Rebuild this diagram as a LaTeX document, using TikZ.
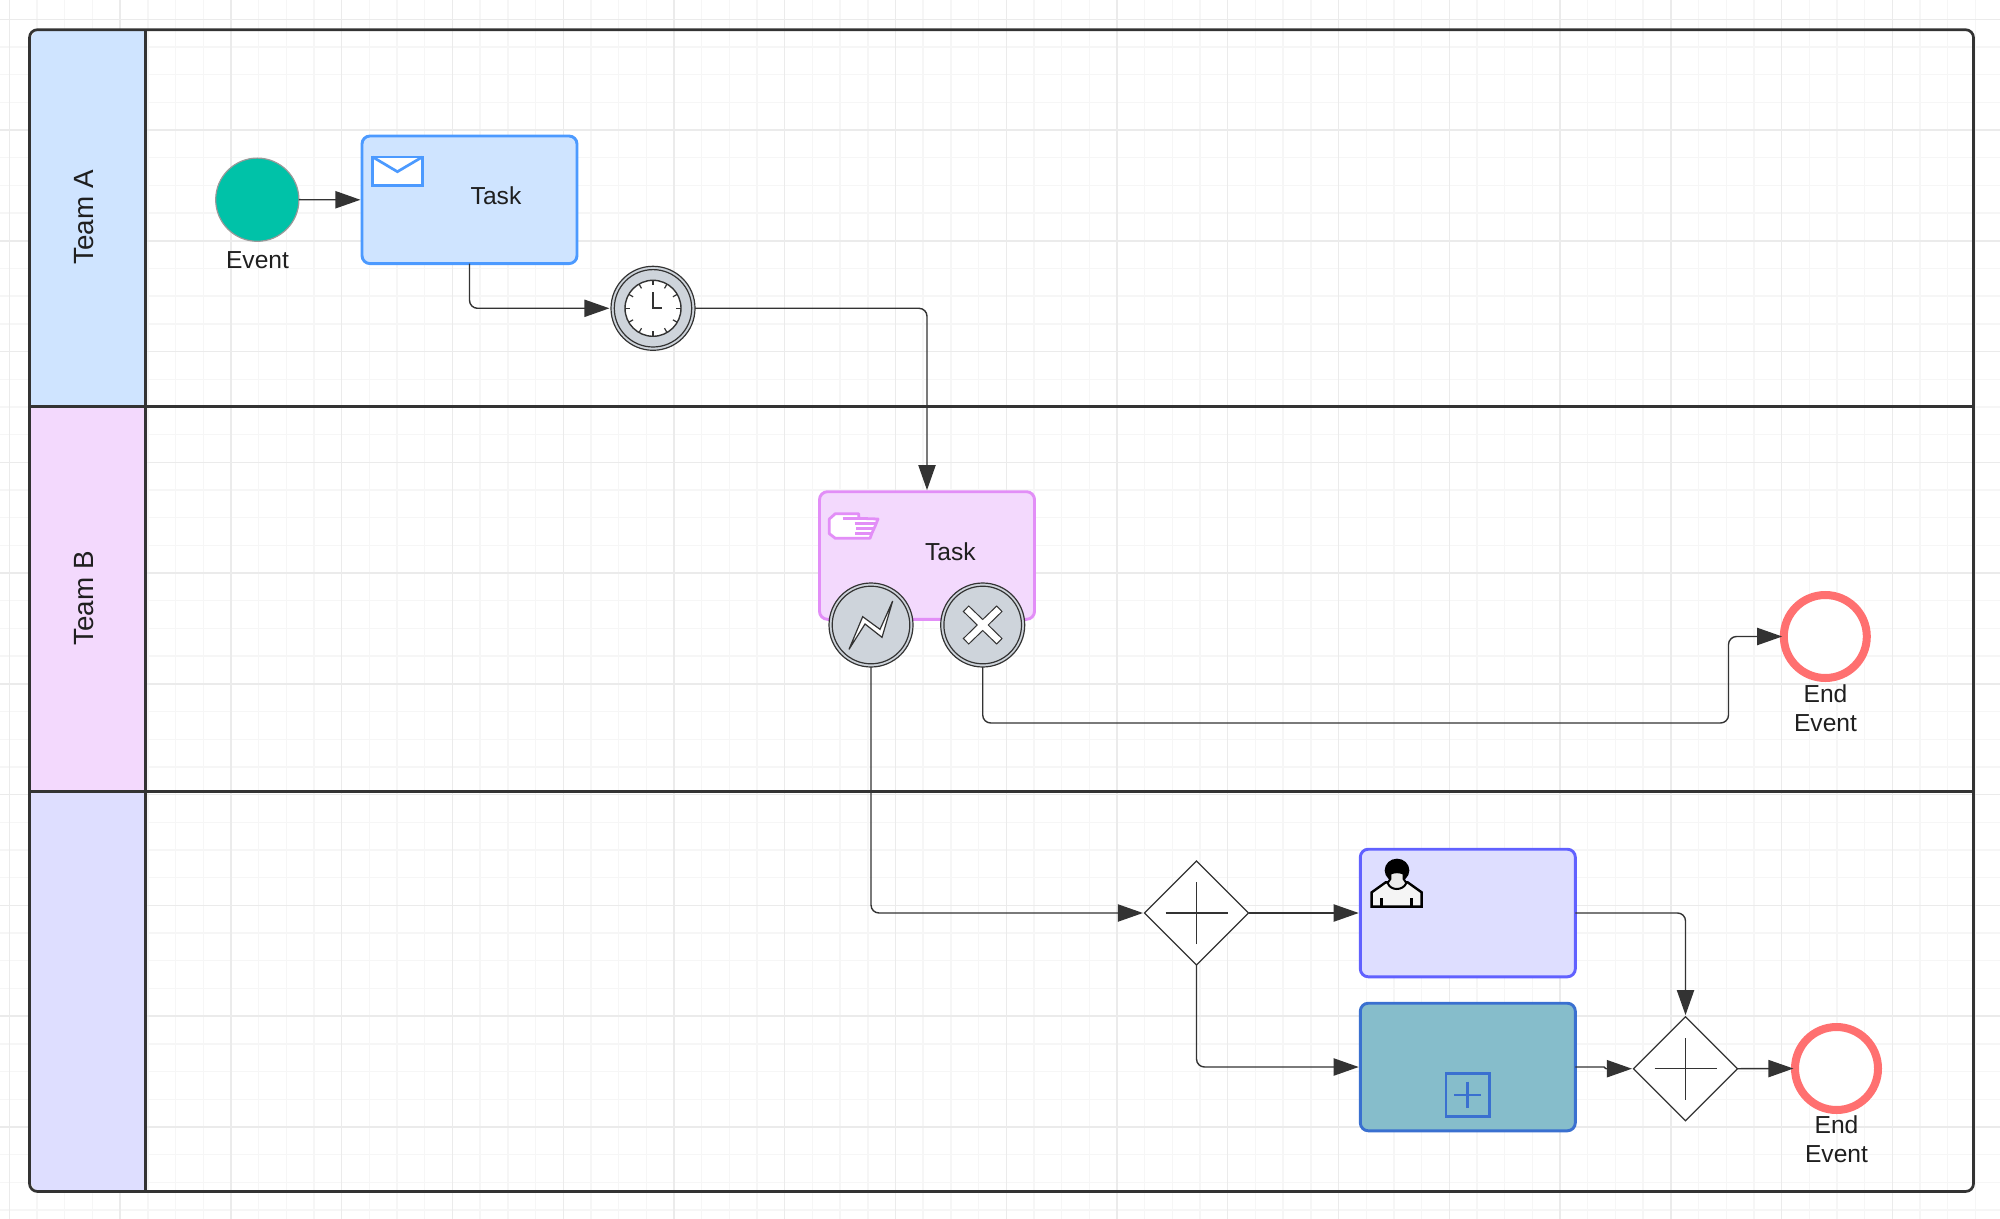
\documentclass[tikz,border=0pt]{standalone}
\usepackage{fontspec}
\setmainfont{Liberation Sans}
\usetikzlibrary{arrows.meta,shapes.geometric}
\definecolor{ink}{HTML}{333333}
\definecolor{txt}{HTML}{1F1F1F}
\definecolor{gridmin}{HTML}{F6F6F6}
\definecolor{gridmaj}{HTML}{EBEBEB}
\definecolor{blueF}{HTML}{CFE4FF}
\definecolor{blueS}{HTML}{4C9AFF}
\definecolor{pinkF}{HTML}{F3D9FD}
\definecolor{pinkS}{HTML}{E28EF7}
\definecolor{lilacF}{HTML}{DEDEFF}
\definecolor{lilacS}{HTML}{6161FF}
\definecolor{tealF}{HTML}{86BDCB}
\definecolor{tealS}{HTML}{3A70D0}
\definecolor{greenF}{HTML}{00C2A8}
\definecolor{redS}{HTML}{FF7070}
\definecolor{grayF}{HTML}{CED4DB}
\tikzset{
  x=0.5pt,y=-0.5pt,
  every node/.style={inner sep=0pt,outer sep=0pt,text=txt},
  task/.style={rectangle,rounded corners=4pt,line width=1.45pt,minimum width=107.5pt,minimum height=63.8pt},
  flow/.style={draw=ink,line width=0.7pt,rounded corners=4pt,shorten >=0.8pt,-{Triangle[length=12.5pt,width=8.6pt,fill=ink]}},
  gateway/.style={diamond,draw=ink,fill=white,line width=0.6pt,minimum width=52pt,minimum height=52pt,aspect=1},
  endevent/.style={circle,draw=redS,fill=white,line width=4pt,minimum size=41.5pt},
  catch/.style={circle,draw=ink,fill=grayF,line width=0.6pt,minimum size=42pt},
  ringin/.style={draw=ink,line width=0.6pt},
  label/.style={font=\fontsize{12.3}{14.7}\selectfont,align=center},
  lanetext/.style={font=\fontsize{13.9}{16}\selectfont,rotate=90}
}
\begin{document}
\begin{tikzpicture}
\useasboundingbox (0,0) rectangle (2000,1219);
\fill[white] (0,0) rectangle (2000,1219);
% grid
\foreach \k in {0,...,72}{
  \draw[gridmin,line width=0.7pt] ({9.4+27.69*\k},0) -- ({9.4+27.69*\k},1219);
}
\foreach \k in {0,...,44}{
  \draw[gridmin,line width=0.7pt] (0,{19.3+27.69*\k}) -- (2000,{19.3+27.69*\k});
}
\foreach \k in {0,...,18}{
  \draw[gridmaj,line width=0.7pt] ({9.4+110.76*\k},0) -- ({9.4+110.76*\k},1219);
}
\foreach \k in {0,...,10}{
  \draw[gridmaj,line width=0.7pt] (0,{19.3+110.76*\k}) -- (2000,{19.3+110.76*\k});
}
% lane headers
\fill[blueF] (145.7,406.5) -- (29.5,406.5) -- (29.5,38) to[out=-90,in=180] (38,29.7) -- (145.7,29.7) -- cycle;
\fill[pinkF] (29.5,406.5) rectangle (145.7,791.5);
\fill[lilacF] (145.7,791.5) -- (29.5,791.5) -- (29.5,1183) to[out=90,in=180] (38,1191.5) -- (145.7,1191.5) -- cycle;
% pool
\draw[ink,line width=1.35pt,rounded corners=4pt] (29.5,29.7) rectangle (1973.5,1191.5);
\draw[ink,line width=1.35pt] (145.7,29.7) -- (145.7,1191.5);
\draw[ink,line width=1.35pt] (29.5,406.5) -- (1973.5,406.5);
\draw[ink,line width=1.35pt] (29.5,791.5) -- (1973.5,791.5);
\node[lanetext] (teamA) at (84.5,217.5) {Team A};
\node[lanetext] (teamB) at (84.5,598.5) {Team B};
% nodes
\node[circle,draw=black!40,fill=greenF,line width=0.6pt,minimum size=41.6pt] (start) at (257.3,199.7) {};
\node[label] (startL) at (257.5,260) {Event};
\node[task,draw=blueS,fill=blueF] (taskA) at (469.5,199.8) {};
\node[label] (taskAL) at (496,196) {Task};
\node[circle,draw=ink,fill=grayF,line width=0.6pt,minimum size=42pt] (timer) at (653,308.3) {};
\node[task,draw=pinkS,fill=pinkF] (taskB) at (927,555.5) {};
\node[label] (taskBL) at (950.3,551.7) {Task};
\node[catch] (bolt) at (871,625) {};
\node[catch] (cross) at (982.7,625) {};
\node[endevent] (endA) at (1825.3,636.5) {};
\node[label] (endAL) at (1825.5,708.5) {End\\Event};
\node[gateway] (gwA) at (1196.5,913) {};
\node[gateway] (gwB) at (1685.5,1068.7) {};
\node[task,draw=lilacS,fill=lilacF] (taskC) at (1467.8,913) {};
\node[task,draw=tealS,fill=tealF] (taskD) at (1467.8,1067) {};
\node[endevent] (endB) at (1836.5,1068.5) {};
\node[label] (endBL) at (1836.5,1139) {End\\Event};
\coordinate (crossBend) at (1728.5,723);
\coordinate (jogA) at (1604,1067);
\coordinate (jogB) at (1606,1068.7);
% connectors
\draw[flow] (start.east) -- (taskA.west);
\draw[flow] (taskA.south) |- (timer.west);
\draw[flow] (timer.east) -| (taskB.north);
\draw[flow] (cross.south) |- (crossBend) |- (endA.west);
\draw[flow] (bolt.south) |- (gwA.west);
\draw[flow] (gwA.east) -- (taskC.west);
\draw[flow] (gwA.south) |- (taskD.west);
\draw[flow] (taskC.east) -| (gwB.north);
\draw[flow,rounded corners=0pt] (taskD.east) -- (jogA) -- (jogB) -- (gwB.west);
\draw[flow] (gwB.east) -- (endB.west);
% gateway plus signs
\foreach \g in {gwA,gwB}{
  \draw[ink,line width=0.6pt] ([xshift=-15.5pt]\g.center) -- ([xshift=15.5pt]\g.center);
  \draw[ink,line width=0.6pt] ([yshift=-15.5pt]\g.center) -- ([yshift=15.5pt]\g.center);
}
% timer
\draw[ringin] (timer.center) circle[radius=38.7];
\draw[ink,fill=white,line width=0.7pt] (timer.center) circle[radius=28];
\foreach \a in {0,30,...,330}{
  \draw[ink,line width=0.6pt] ([shift={(\a:28)}]timer.center) -- ([shift={(\a:23)}]timer.center);
}
\draw[ink,line width=0.8pt] ([yshift=8pt]timer.center) -- (timer.center) -- ([xshift=4.5pt]timer.center);
% envelope
\draw[blueS,fill=white,line width=1.35pt,line join=miter] (372.7,157) rectangle (422.3,185.7);
\draw[blueS,line width=1.35pt,line join=miter] (372.7,157) -- (397.4,171.7) -- (422.3,157);
% hand
\begin{scope}[shift={(822,505)},x=0.16667pt,y=-0.16667pt]
  \draw[pinkS,fill=white,line width=1.4pt,line join=round] (22,42) -- (40,26) -- (110,26) -- (110,40) -- (168,42) -- (160,62) -- (150,84) -- (144,100) -- (40,100) -- (22,86) -- cycle;
  \draw[pinkS,line width=1.4pt] (62,40) -- (110,40);
  \draw[pinkS,line width=1.4pt] (98,56) -- (162,56);
  \draw[pinkS,line width=1.4pt] (102,71) -- (156,71);
  \draw[pinkS,line width=1.4pt] (100,86) -- (150,86);
\end{scope}
% bolt and cross
\draw[ringin] (bolt.center) circle[radius=38.8];
\draw[ringin] (cross.center) circle[radius=38.8];
\begin{scope}[shift={(800,480)},x=0.16667pt,y=-0.16667pt]
  \draw[ink,fill=white,line width=0.6pt,line join=miter] (147,508) -- (188,410) -- (240,448) -- (278,363) -- (246,472) -- (195,432) -- cycle;
\end{scope}
\draw[ink,fill=white,line width=0.5pt,shift={(cross.center)}]
  (-14,-19) -- (0,-5.5) -- (14,-19) -- (19.3,-13.5) -- (5.5,0) -- (19.3,13.5) -- (14,19) -- (0,5.5) -- (-14,19) -- (-19.3,13.5) -- (-5.5,0) -- (-19.3,-13.5) -- cycle;
% user
\begin{scope}[shift={(1365,855)},x=0.16667pt,y=-0.16667pt]
  \draw[black,fill=white!96!black,line width=1.2pt,line join=miter] (20,155) -- (20,112) -- (62,82) -- (128,82) -- (170,112) -- (170,155) -- cycle;
  \draw[black,line width=1.2pt] (50,130) -- (50,155) (140,130) -- (140,155);
  \fill[black] (96,46) ellipse[x radius=37,y radius=35];
  \draw[black,fill=white!92!black,line width=1pt] (76,56) .. controls (88,50) and (104,50) .. (116,56) -- (116,72) -- (124,84) .. controls (114,108) and (76,108) .. (68,84) -- (76,72) -- cycle;
\end{scope}
% subprocess marker
\draw[tealS,line width=1.35pt] (1446,1073.3) rectangle (1489.3,1116.3);
\draw[tealS,line width=1.35pt] (1454.3,1095) -- (1481,1095) (1467.7,1081.7) -- (1467.7,1108.3);
\end{tikzpicture}
\end{document}
